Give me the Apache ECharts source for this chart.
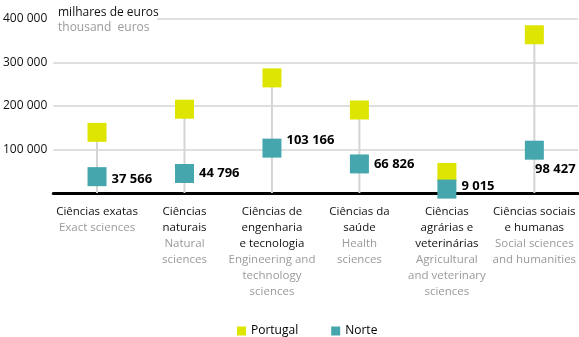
<!DOCTYPE html>
<html>
<head>
<meta charset="utf-8">
<script src="https://cdn.jsdelivr.net/npm/echarts@6/dist/echarts.min.js"></script>
<style>
  html, body { margin: 0; padding: 0; background: #fff; }
  #chart { width: 579px; height: 337px; }
</style>
</head>
<body>
<div id="chart"></div>
<script>
// Scientific fields (Portuguese name / English name)
const ptNames = [
  'Ciências exatas',
  'Ciências\nnaturais',
  'Ciências de\nengenharia\ne tecnologia',
  'Ciências da\nsaúde',
  'Ciências\nagrárias e\nveterinárias',
  'Ciências sociais\ne humanas'
];
const enNames = [
  'Exact sciences',
  'Natural\nsciences',
  'Engineering and\ntechnology\nsciences',
  'Health\nsciences',
  'Agricultural\nand veterinary\nsciences',
  'Social sciences\nand humanities'
];

// Values in thousand euros
const portugal = [139500, 192600, 264600, 190800, 47300, 363800];
const norte = [37566, 44796, 103166, 66826, 9015, 98427];

const yTicks = [0, 100000, 200000, 300000, 400000];

const fmt = v => String(v).replace(/\B(?=(\d{3})+(?!\d))/g, ' ');

const PT_COLOR = '#dde500';
const NORTE_COLOR = '#45a6ae';
const FONT = '"Open Sans", sans-serif';

// per-point placement of the Norte value labels
function norteLabel(i) {
  const base = { show: true, position: 'right', distance: 5 };
  if (i === 0) return Object.assign(base, { offset: [0, 3] });
  if (i === 2) return Object.assign(base, { offset: [0, -8] });
  if (i === 4) return Object.assign(base, { offset: [0, -3] });
  if (i === 5) return Object.assign(base, { position: 'bottom', distance: 3, offset: [21, 0] });
  return base;
}

const categories = ptNames.map((p, i) => '{pt|' + p + '}\n{en|' + enNames[i] + '}');

const chart = echarts.init(document.getElementById('chart'), null, { renderer: 'canvas' });

chart.setOption({
  animation: false,
  backgroundColor: '#ffffff',
  textStyle: { fontFamily: FONT },
  grid: { left: 53, right: 0, top: 19, bottom: 144, containLabel: false },
  legend: {
    data: ['Portugal', 'Norte'],
    left: 232,
    top: 320,
    icon: 'rect',
    itemWidth: 9,
    itemHeight: 9,
    itemGap: 33,
    textStyle: { fontFamily: FONT, fontSize: 12, color: '#000' }
  },
  xAxis: {
    type: 'category',
    data: categories,
    axisLine: { show: true, onZero: true, lineStyle: { color: '#000', width: 3 } },
    axisTick: { show: false },
    splitLine: { show: false },
    axisLabel: {
      interval: 0,
      margin: 11,
      fontFamily: FONT,
      rich: {
        pt: { fontFamily: FONT, fontSize: 11.5, color: '#111', lineHeight: 16, align: 'center' },
        en: { fontFamily: FONT, fontSize: 11.5, color: '#9a9a9a', lineHeight: 16, align: 'center' }
      }
    }
  },
  yAxis: {
    type: 'value',
    min: yTicks[0],
    max: yTicks[yTicks.length - 1],
    interval: yTicks[1] - yTicks[0],
    axisLine: { show: false },
    axisTick: { show: false },
    splitLine: { show: true, lineStyle: { color: '#d4d4d4', width: 1.5 } },
    axisLabel: {
      margin: 6,
      fontFamily: FONT,
      fontSize: 12,
      color: '#111',
      formatter: v => (v === 0 ? '' : fmt(v))
    }
  },
  graphic: [
    {
      type: 'rect',
      left: 53, top: 4,
      shape: { width: 104, height: 34 },
      style: { fill: '#ffffff' },
      z: 10
    },
    {
      type: 'text',
      left: 58, top: 7,
      style: { text: 'milhares de euros', fill: '#111', font: '12px "Open Sans", sans-serif' },
      z: 11
    },
    {
      type: 'text',
      left: 58, top: 22,
      style: { text: 'thousand  euros', fill: '#9a9a9a', font: '12px "Open Sans", sans-serif' },
      z: 11
    }
  ],
  series: [
    {
      // thin stems from the axis up to the Portugal marker
      name: 'stem',
      type: 'bar',
      data: portugal,
      barWidth: 2,
      silent: true,
      itemStyle: { color: '#d4d4d4' },
      z: 1
    },
    {
      name: 'Portugal',
      type: 'scatter',
      data: portugal,
      symbol: 'rect',
      symbolSize: 19,
      itemStyle: { color: PT_COLOR, opacity: 1 },
      z: 2
    },
    {
      name: 'Norte',
      type: 'scatter',
      data: norte.map((v, i) => ({ value: v, label: norteLabel(i) })),
      symbol: 'rect',
      symbolSize: 19,
      itemStyle: { color: NORTE_COLOR, opacity: 1 },
      label: {
        show: true,
        fontFamily: FONT,
        fontSize: 13,
        fontWeight: 'bold',
        color: '#000',
        formatter: p => fmt(p.value)
      },
      z: 3
    }
  ]
});
</script>
</body>
</html>
